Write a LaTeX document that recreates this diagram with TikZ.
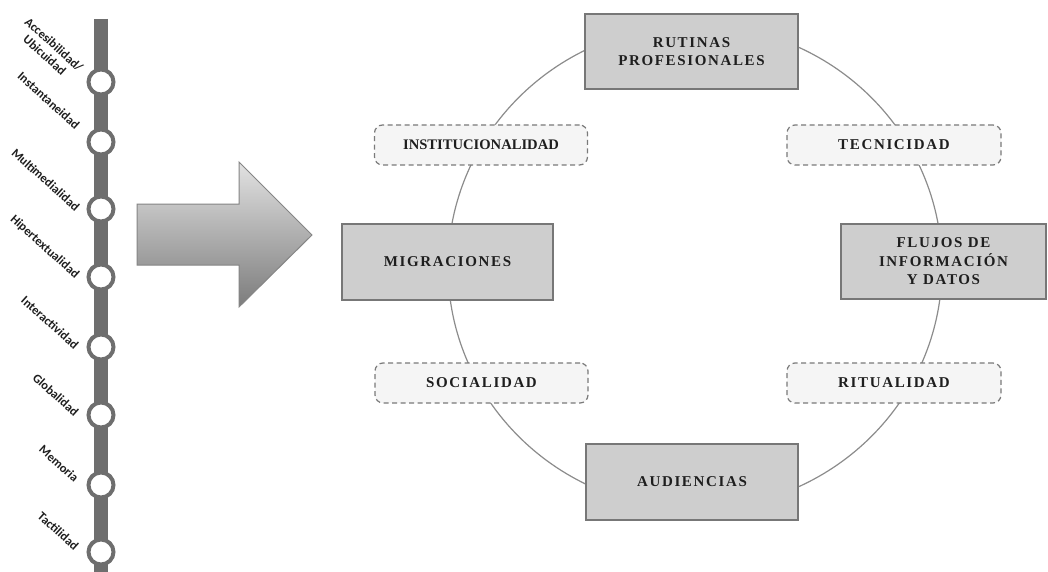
\documentclass[tikz,border=0pt]{standalone}
\usepackage{fontspec}
\newfontfamily\capsfont[LetterSpace=11]{Liberation Serif}
\newfontfamily\tightcaps{Liberation Serif}
\newfontfamily\tagfont{Carlito}

\definecolor{ink}{HTML}{1E1E1E}
\definecolor{boxfill}{HTML}{CECECE}
\definecolor{boxline}{HTML}{777777}
\definecolor{softfill}{HTML}{F5F5F5}
\definecolor{dashline}{HTML}{7A7A7A}
\definecolor{ringline}{HTML}{8C8C8C}
\definecolor{railgray}{HTML}{6E6E6E}
\definecolor{arrtop}{HTML}{E2E2E2}
\definecolor{arrbot}{HTML}{7C7C7C}
\definecolor{arrline}{HTML}{858585}

\begin{document}
\begin{tikzpicture}[x=1pt,y=-1pt,
  mainbox/.style={draw=boxline, fill=boxfill, line width=1.4pt,
    minimum width=212pt, minimum height=76pt, inner sep=0pt, align=center,
    text=ink, font=\capsfont\bfseries\fontsize{15}{17.5}\selectfont},
  softbox/.style={draw=dashline, fill=softfill, line width=1.2pt,
    dash pattern=on 5pt off 3.5pt, rounded corners=8pt,
    minimum width=213pt, minimum height=40pt, inner sep=0pt, align=center,
    text=ink, font=\capsfont\bfseries\fontsize{15}{17.5}\selectfont},
  stop/.style={circle, draw=railgray, line width=4pt, fill=white,
    minimum size=25pt, inner sep=0pt},
  tag/.style={rotate=-42, inner sep=0pt, text=ink,
    font=\tagfont\bfseries\fontsize{12.5}{14}\selectfont},
  rail/.style={draw=railgray, line width=14pt},
  orbit/.style={draw=ringline, line width=1.2pt}
]
% canvas
\useasboundingbox (0,0) rectangle (1048,572);
\fill[white] (0,0) rectangle (1048,572);

% ---- timeline of features ----
\coordinate (railtop) at (101,19);
\coordinate (railend) at (101,575);
\draw[rail] (railtop) -- (railend);
\node[stop] (c1) at (101,82) {};
\node[stop] (c2) at (101,142) {};
\node[stop] (c3) at (101,209) {};
\node[stop] (c4) at (101,277) {};
\node[stop] (c5) at (101,347) {};
\node[stop] (c6) at (101,415) {};
\node[stop] (c7) at (101,485) {};
\node[stop] (c8) at (101,552) {};

\node[tag, anchor=south east, align=center] (t1) at (69,83) {Accesibilidad/\\Ubicuidad};
\node[tag, anchor=base east] (t2) at (75,130) {Instantaneidad};
\node[tag, anchor=base east] (t3) at (75,212) {Multimedialidad};
\node[tag, anchor=base east] (t4) at (75,279) {Hipertextualidad};
\node[tag, anchor=base east] (t5) at (74,350) {Interactividad};
\node[tag, anchor=base east] (t6) at (74,417) {Globalidad};
\node[tag, anchor=base east] (t7) at (74,483) {Memoria};
\node[tag, anchor=base east] (t8) at (74,551) {Tactilidad};

% ---- block arrow ----
\shade[top color=arrtop, bottom color=arrbot, draw=arrline, line width=1pt]
  (137,204) -- (239,204) -- (239,162) -- (312,235) -- (239,307)
  -- (239,265) -- (137,265) -- cycle;

% ---- ring of dimensions ----
\draw[orbit] (695,267) ellipse [x radius=247pt, y radius=242pt];

\node[mainbox, minimum width=213pt, minimum height=75pt] (rutinas) at (691.5,51.5) {RUTINAS\\PROFESIONALES};
\node[mainbox, minimum width=211pt] (migra) at (447.5,262) {MIGRACIONES};
\node[mainbox, minimum width=205pt, minimum height=75pt,
      font=\capsfont\bfseries\fontsize{15}{18.5}\selectfont] (flujos) at (943.5,261.5) {FLUJOS DE\\INFORMACIÓN\\Y DATOS};
\node[mainbox] (audi) at (692,482) {AUDIENCIAS};

\node[softbox, font=\tightcaps\bfseries\fontsize{14.6}{17}\selectfont] (inst) at (481,145) {INSTITUCIONALIDAD};
\node[softbox, minimum width=214pt] (tecn) at (894,145) {TECNICIDAD};
\node[softbox] (soci) at (481.5,383) {SOCIALIDAD};
\node[softbox, minimum width=214pt] (ritu) at (894,383) {RITUALIDAD};
\end{tikzpicture}
\end{document}
